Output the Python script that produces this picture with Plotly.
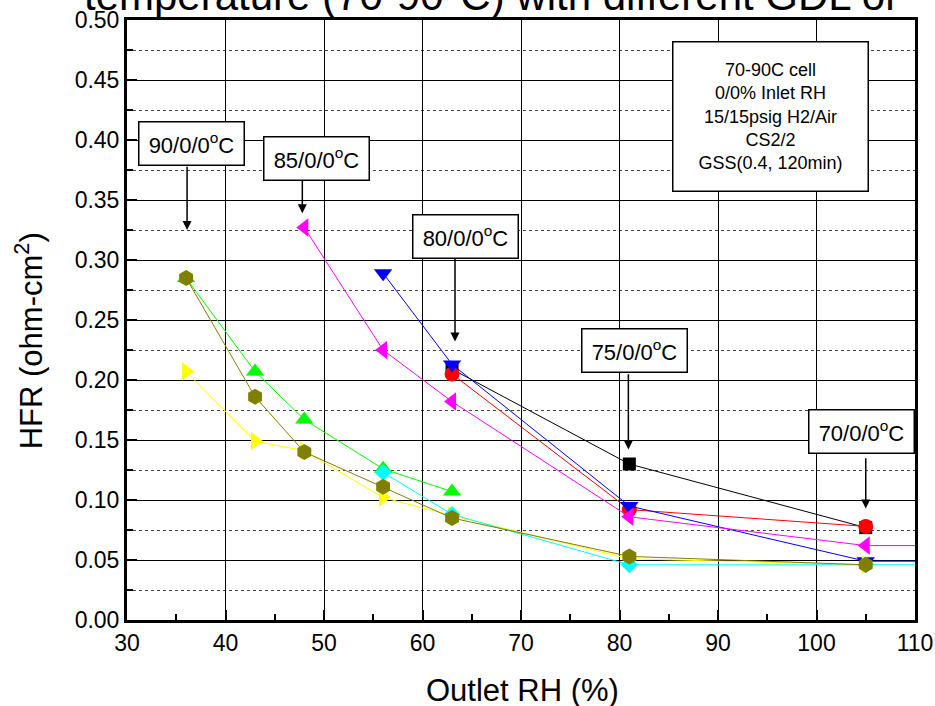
import plotly.graph_objects as go

# ---- data ----
x_black = [63, 81, 105]
y_black = [0.209, 0.130, 0.077]

x_red = [63, 81, 105]
y_red = [0.205, 0.092, 0.078]

x_blue = [56, 63, 81, 105, 120]
y_blue = [0.289, 0.213, 0.095, 0.049, 0.049]

x_magenta = [48, 56, 63, 81, 105, 120]
y_magenta = [0.327, 0.225, 0.182, 0.086, 0.062, 0.062]

x_green = [36, 43, 48, 56, 63]
y_green = [0.285, 0.207, 0.167, 0.126, 0.107]

x_yellow = [36, 43, 48, 56, 63, 81, 105]
y_yellow = [0.207, 0.149, 0.141, 0.102, 0.087, 0.051, 0.046]

x_cyan = [56, 63, 81, 105, 120]
y_cyan = [0.123, 0.088, 0.046, 0.046, 0.046]

x_olive = [36, 43, 48, 56, 63, 81, 105]
y_olive = [0.285, 0.186, 0.140, 0.111, 0.085, 0.053, 0.046]

series = [
    (x_black, y_black, "#000000", "square", 13),
    (x_red, y_red, "#FF0000", "circle", 15),
    (x_blue, y_blue, "#0000FF", "triangle-down", 16),
    (x_magenta, y_magenta, "#FF00FF", "triangle-left", 16),
    (x_green, y_green, "#00FF00", "triangle-up", 16),
    (x_yellow, y_yellow, "#FFFF00", "triangle-right", 16),
    (x_cyan, y_cyan, "#00FFFF", "diamond", 13),
    (x_olive, y_olive, "#808000", "hexagon", 16),
]

# label boxes: text, box centre (x, y), arrow x, arrow tail y, arrow head y
labels = [
    ("90/0/0<sup>o</sup>C", 36.5, 0.397, 36.1, 0.379, 0.325),
    ("85/0/0<sup>o</sup>C", 49.2, 0.385, 47.8, 0.367, 0.339),
    ("80/0/0<sup>o</sup>C", 64.4, 0.320, 63.3, 0.303, 0.232),
    ("75/0/0<sup>o</sup>C", 81.5, 0.225, 80.9, 0.206, 0.142),
    ("70/0/0<sup>o</sup>C", 104.6, 0.157, 105.0, 0.136, 0.093),
]

info_lines = ["70-90C cell", "0/0% Inlet RH", "15/15psig H2/Air", "CS2/2", "GSS(0.4, 120min)"]

FONT = "Arial, Liberation Sans, sans-serif"

fig = go.Figure()
for xs, ys, col, sym, sz in series:
    fig.add_trace(go.Scatter(
        x=xs, y=ys, mode="lines+markers",
        line=dict(color=col, width=1),
        marker=dict(color=col, symbol=sym, size=sz, line=dict(width=0)),
        showlegend=False,
    ))

annotations = []
for txt, bx, by, axx, ty, hy in labels:
    annotations.append(dict(
        x=axx, y=hy, xref="x", yref="y", ax=axx, ay=ty, axref="x", ayref="y",
        text="", showarrow=True, arrowhead=2, arrowsize=1.2, arrowwidth=1.5,
        arrowcolor="black",
    ))
    annotations.append(dict(
        x=bx, y=by, xref="x", yref="y", text=txt, showarrow=False,
        font=dict(family=FONT, size=22, color="black"),
        bgcolor="white", bordercolor="black", borderwidth=1.5,
        width=102, height=40,
    ))

annotations.append(dict(
    x=95.33, y=0.420, xref="x", yref="y", text="<br>".join(info_lines),
    showarrow=False, font=dict(family=FONT, size=18, color="black"),
    bgcolor="white", bordercolor="black", borderwidth=1.5,
    width=192, height=146, align="center",
))

# title (cut off at top of canvas)
annotations.append(dict(
    x=0.462, y=0.99, xref="paper", yref="paper", xanchor="center", yanchor="bottom",
    text="temperature (70-90°C) with different GDL or", showarrow=False, yshift=5,
    font=dict(family=FONT, size=42, color="black"),
))
# axis titles
annotations.append(dict(
    x=0.5025, y=-0.117, xref="paper", yref="paper", xanchor="center", yanchor="middle",
    text="Outlet RH (%)", showarrow=False,
    font=dict(family=FONT, size=31, color="black"),
))
annotations.append(dict(
    x=-0.124, y=0.465, xref="paper", yref="paper", xanchor="center", yanchor="middle",
    text="HFR (ohm-cm<sup>2</sup>)", showarrow=False, textangle=-90,
    font=dict(family=FONT, size=31, color="black"),
))

fig.update_layout(
    width=935, height=706,
    margin=dict(l=127, r=20, t=20, b=86),
    plot_bgcolor="white", paper_bgcolor="white",
    font=dict(family=FONT, color="black"),
    annotations=annotations,
    showlegend=False,
)
fig.update_xaxes(
    range=[30, 110], dtick=10, tick0=30, automargin=False,
    showline=True, linecolor="black", linewidth=3, mirror=True,
    ticks="inside", ticklen=10, tickwidth=2, tickcolor="black",
    tickfont=dict(family=FONT, size=23, color="black"),
    showgrid=True, gridcolor="black", gridwidth=1, zeroline=False,
    minor=dict(dtick=5, ticks="inside", ticklen=6, tickwidth=2, tickcolor="black", showgrid=False),
)
fig.update_yaxes(
    range=[0, 0.5], dtick=0.05, tick0=0, tickformat=".2f", automargin=False,
    showline=True, linecolor="black", linewidth=3, mirror=True,
    ticks="inside", ticklen=10, tickwidth=2, tickcolor="black",
    tickfont=dict(family=FONT, size=23, color="black"),
    showgrid=True, gridcolor="black", gridwidth=1, zeroline=False,
    minor=dict(dtick=0.025, ticks="inside", ticklen=6, tickwidth=2, tickcolor="black",
               showgrid=True, griddash="dot", gridcolor="#444", gridwidth=1),
)

fig.write_html("out.html", config={"displayModeBar": False},
               post_script="document.body.style.margin='0';")
